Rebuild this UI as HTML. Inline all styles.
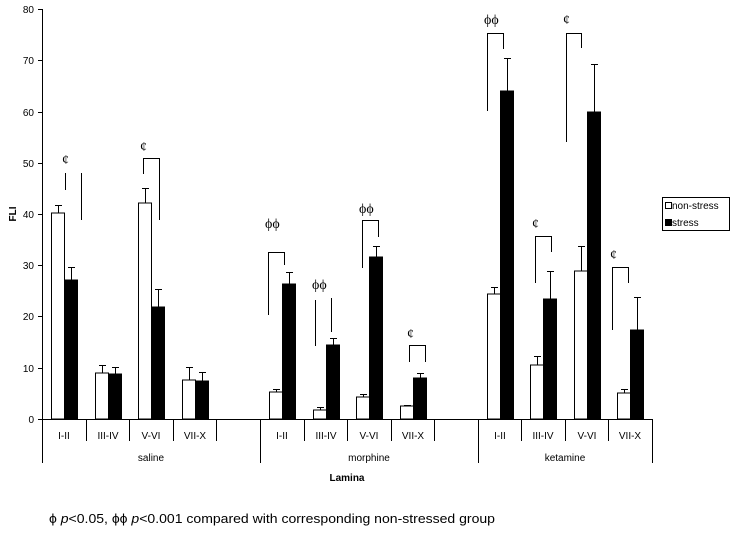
<!DOCTYPE html>
<html><head><meta charset="utf-8"><style>
html,body{margin:0;padding:0;background:#fff;}
svg{display:block;font-family:"Liberation Sans",Arial,sans-serif;}
</style></head><body>
<svg width="732" height="534" viewBox="0 0 732 534" xmlns="http://www.w3.org/2000/svg">
<g stroke="#000" stroke-width="1" fill="none" shape-rendering="crispEdges">
<line x1="42.5" y1="9" x2="42.5" y2="463"/>
<line x1="42" y1="419.5" x2="652" y2="419.5"/>
<line x1="38" y1="9.5" x2="42" y2="9.5"/>
<line x1="38" y1="60.5" x2="42" y2="60.5"/>
<line x1="38" y1="112.5" x2="42" y2="112.5"/>
<line x1="38" y1="163.5" x2="42" y2="163.5"/>
<line x1="38" y1="214.5" x2="42" y2="214.5"/>
<line x1="38" y1="265.5" x2="42" y2="265.5"/>
<line x1="38" y1="316.5" x2="42" y2="316.5"/>
<line x1="38" y1="368.5" x2="42" y2="368.5"/>
<line x1="38" y1="419.5" x2="42" y2="419.5"/>
<path d="M86.5 419V441M129.5 419V441M173.5 419V441M216.5 419V441M304.5 419V441M347.5 419V441M391.5 419V441M434.5 419V441M521.5 419V441M565.5 419V441M608.5 419V441"/>
<path d="M260.5 419V463M478.5 419V463M652.5 419V463"/>
</g>
<g font-size="10" text-anchor="end" fill="#000">
<text x="34" y="13">80</text><text x="34" y="64">70</text><text x="34" y="116">60</text><text x="34" y="167">50</text><text x="34" y="218">40</text><text x="34" y="269">30</text><text x="34" y="320">20</text><text x="34" y="372">10</text><text x="34" y="423">0</text>
</g>
<text x="16" y="214" font-size="10" font-weight="bold" transform="rotate(-90 16 214)" text-anchor="middle">FLI</text>
<g font-size="10" text-anchor="middle" fill="#000">
<text x="64" y="439">I-II</text><text x="108" y="439">III-IV</text><text x="151" y="439">V-VI</text><text x="195" y="439">VII-X</text>
<text x="282" y="439">I-II</text><text x="326" y="439">III-IV</text><text x="369" y="439">V-VI</text><text x="413" y="439">VII-X</text>
<text x="500" y="439">I-II</text><text x="543" y="439">III-IV</text><text x="587" y="439">V-VI</text><text x="630" y="439">VII-X</text>
<text x="151" y="461">saline</text><text x="369" y="461">morphine</text><text x="565" y="461">ketamine</text>
<text x="347" y="481" font-weight="bold">Lamina</text>
</g>
<g stroke="#000" stroke-width="1" shape-rendering="crispEdges">
<rect x="51.5" y="213" width="13" height="206" fill="#fff"/><rect x="64.5" y="280" width="13" height="139" fill="#000"/>
<rect x="95.5" y="373" width="13" height="46" fill="#fff"/><rect x="108.5" y="374" width="13" height="45" fill="#000"/>
<rect x="138.5" y="203" width="13" height="216" fill="#fff"/><rect x="151.5" y="307" width="13" height="112" fill="#000"/>
<rect x="182.5" y="380" width="13" height="39" fill="#fff"/><rect x="195.5" y="381" width="13" height="38" fill="#000"/>
<rect x="269.5" y="392" width="13" height="27" fill="#fff"/><rect x="282.5" y="284" width="13" height="135" fill="#000"/>
<rect x="313.5" y="410" width="13" height="9" fill="#fff"/><rect x="326.5" y="345" width="13" height="74" fill="#000"/>
<rect x="356.5" y="397" width="13" height="22" fill="#fff"/><rect x="369.5" y="257" width="13" height="162" fill="#000"/>
<rect x="400.5" y="406" width="13" height="13" fill="#fff"/><rect x="413.5" y="378" width="13" height="41" fill="#000"/>
<rect x="487.5" y="294" width="13" height="125" fill="#fff"/><rect x="500.5" y="91" width="13" height="328" fill="#000"/>
<rect x="530.5" y="365" width="13" height="54" fill="#fff"/><rect x="543.5" y="299" width="13" height="120" fill="#000"/>
<rect x="574.5" y="271" width="13" height="148" fill="#fff"/><rect x="587.5" y="112" width="13" height="307" fill="#000"/>
<rect x="617.5" y="393" width="13" height="26" fill="#fff"/><rect x="630.5" y="330" width="13" height="89" fill="#000"/>
</g>
<g stroke="#000" stroke-width="1" fill="none" shape-rendering="crispEdges">
<path d="M58.5 213V205M55 205.5H62M71.5 280V267M68 267.5H75"/>
<path d="M102.5 373V365M99 365.5H106M115.5 374V367M112 367.5H119"/>
<path d="M145.5 203V188M142 188.5H149M158.5 307V289M155 289.5H162"/>
<path d="M189.5 380V367M186 367.5H193M202.5 381V372M199 372.5H206"/>
<path d="M276.5 392V389M273 389.5H280M289.5 284V272M286 272.5H293"/>
<path d="M320.5 410V407M317 407.5H324M333.5 345V338M330 338.5H337"/>
<path d="M363.5 397V394M360 394.5H367M376.5 257V246M373 246.5H380"/>
<path d="M407.5 406V405M404 405.5H411M420.5 378V373M417 373.5H424"/>
<path d="M494.5 294V287M491 287.5H498M507.5 91V58M504 58.5H511"/>
<path d="M537.5 365V356M534 356.5H541M550.5 299V271M547 271.5H554"/>
<path d="M581.5 271V246M578 246.5H585M594.5 112V64M591 64.5H598"/>
<path d="M624.5 393V389M621 389.5H628M637.5 330V297M634 297.5H641"/>
<path d="M65.5 173V190M81.5 173V220"/>
<path d="M143.5 174V158.5H159.5V220"/>
<path d="M268.5 315V252.5H284.5V265"/>
<path d="M315.5 346V300M331.5 332V298"/>
<path d="M362.5 268V220.5H378.5V237"/>
<path d="M409.5 362V345.5H425.5V362"/>
<path d="M487.5 111V33.5H503.5V49"/>
<path d="M535.5 283V236.5H551.5V252"/>
<path d="M566.5 142V33.5H581.5V48"/>
<path d="M612.5 330V267.5H628.5V283"/>
</g>
<g font-size="14" fill="#000" font-family="'Liberation Serif','DejaVu Serif',serif">
<text x="62" y="164">¢</text>
<text x="140" y="151">¢</text>
<text x="265" y="228">ϕϕ</text>
<text x="312" y="289">ϕϕ</text>
<text x="359" y="213">ϕϕ</text>
<text x="407" y="338">¢</text>
<text x="484" y="24">ϕϕ</text>
<text x="532" y="228">¢</text>
<text x="563" y="24">¢</text>
<text x="610" y="259">¢</text>
</g>
<rect x="662.5" y="197.5" width="67" height="33" fill="#fff" stroke="#000" shape-rendering="crispEdges"/>
<rect x="665.5" y="202.5" width="6" height="6" fill="#fff" stroke="#000" shape-rendering="crispEdges"/>
<rect x="665.5" y="219.5" width="6" height="6" fill="#000" stroke="#000" shape-rendering="crispEdges"/>
<text x="672" y="209" font-size="10">non-stress</text>
<text x="672" y="226" font-size="10">stress</text>
<text x="49" y="523" font-size="13" fill="#000" textLength="446" lengthAdjust="spacingAndGlyphs">ϕ  <tspan font-style="italic">p</tspan>&lt;0.05, ϕϕ <tspan font-style="italic">p</tspan>&lt;0.001 compared with corresponding non-stressed group</text>
</svg>
</body></html>
